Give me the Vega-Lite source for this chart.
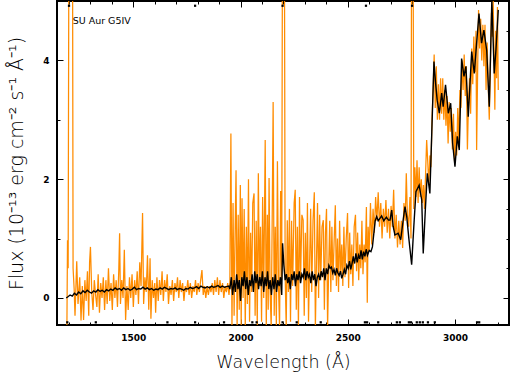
{
 "$schema": "https://vega.github.io/schema/vega-lite/v6.json",
 "width": 452, "height": 324,
 "autosize": {"type": "none"},
 "padding": {"left": 57, "top": 1, "right": 1, "bottom": 47},
 "background": "white",
 "config": {
  "font": "DejaVu Sans",
  "view": {"stroke": "black", "strokeWidth": 2},
  "axis": {"domain": false, "grid": false, "tickColor": "black", "tickWidth": 1, "labelColor": "black", "titleColor": "black", "labelFontSize": 9, "labelFontWeight": "bold", "titleFontSize": 17.5, "titleFontWeight": 200, "zindex": 1, "labelOverlap": false, "labelFlush": false}
 },
 "datasets": {
  "orange": [
   {"w":1190,"v":-0.6},{"w":1193,"v":0.97},{"w":1196,"v":0.5},{"w":1200,"v":7},{"w":1208,"v":7},{"w":1216,"v":7},{"w":1219,"v":0.5},
   {"w":1224,"v":0.15},{"w":1228,"v":-0.3},{"w":1236,"v":0.62},{"w":1242,"v":-0.1},{"w":1250,"v":0.35},{"w":1256,"v":-0.38},{"w":1262,"v":0.2},{"w":1268,"v":-0.37},{"w":1274,"v":0.3},{"w":1280,"v":-0.05},{"w":1286,"v":0.45},{"w":1292,"v":-0.3},{"w":1296,"v":0.6},{"w":1300,"v":0.86},{"w":1306,"v":0.1},{"w":1312,"v":-0.2},{"w":1318,"v":0.3},{"w":1324,"v":0.05},{"w":1330,"v":-0.15},{"w":1336,"v":0.4},{"w":1342,"v":-0.25},{"w":1348,"v":0.25},{"w":1354,"v":0.0},{"w":1360,"v":0.35},{"w":1366,"v":-0.2},{"w":1372,"v":0.3},{"w":1378,"v":-0.1},{"w":1384,"v":0.5},{"w":1390,"v":-0.05},{"w":1396,"v":0.25},{"w":1402,"v":-0.2},{"w":1408,"v":0.4},{"w":1414,"v":0.0},{"w":1420,"v":0.3},{"w":1426,"v":-0.15},{"w":1432,"v":0.45},{"w":1436,"v":1.09},{"w":1440,"v":-0.1},{"w":1446,"v":0.3},{"w":1452,"v":0.0},{"w":1458,"v":0.81},{"w":1464,"v":-0.37},{"w":1470,"v":0.2},{"w":1476,"v":-0.2},{"w":1482,"v":0.35},{"w":1488,"v":0.0},{"w":1494,"v":0.4},{"w":1500,"v":-0.15},{"w":1506,"v":0.3},{"w":1512,"v":0.05},{"w":1518,"v":0.45},{"w":1524,"v":-0.1},{"w":1530,"v":0.6},{"w":1536,"v":0.2},{"w":1543,"v":1.43},{"w":1548,"v":-0.1},{"w":1554,"v":0.35},{"w":1560,"v":0.1},{"w":1566,"v":0.72},{"w":1572,"v":-0.2},{"w":1578,"v":0.67},{"w":1582,"v":-0.35},{"w":1588,"v":0.3},{"w":1594,"v":0.0},{"w":1600,"v":0.25},{"w":1604,"v":-0.25},{"w":1610,"v":0.35},{"w":1616,"v":-0.05},{"w":1622,"v":0.3},{"w":1628,"v":0.05},{"w":1634,"v":0.45},{"w":1640,"v":-0.05},{"w":1646,"v":0.3},{"w":1652,"v":0.1},{"w":1658,"v":0.4},{"w":1664,"v":-0.1},{"w":1670,"v":0.2},{"w":1676,"v":0.05},{"w":1682,"v":0.3},{"w":1688,"v":-0.05},{"w":1694,"v":0.25},{"w":1700,"v":0.1},{"w":1706,"v":0.35},{"w":1712,"v":0.0},{"w":1718,"v":0.3},{"w":1724,"v":0.1},{"w":1730,"v":0.25},{"w":1736,"v":-0.05},{"w":1742,"v":0.2},{"w":1748,"v":0.1},{"w":1754,"v":0.3},{"w":1760,"v":0.05},{"w":1766,"v":0.25},{"w":1772,"v":0.0},{"w":1778,"v":0.2},{"w":1784,"v":0.1},{"w":1790,"v":0.3},{"w":1796,"v":0.05},{"w":1802,"v":0.25},{"w":1808,"v":0.1},{"w":1814,"v":0.3},{"w":1820,"v":0.47},{"w":1826,"v":0.05},{"w":1832,"v":0.2},{"w":1838,"v":0.0},{"w":1844,"v":0.2},{"w":1850,"v":0.05},{"w":1856,"v":0.2},{"w":1862,"v":0.1},{"w":1868,"v":0.25},{"w":1874,"v":0.05},{"w":1880,"v":0.3},{"w":1886,"v":0.1},{"w":1892,"v":0.35},{"w":1898,"v":0.05},{"w":1904,"v":0.3},{"w":1910,"v":0.1},{"w":1916,"v":0.25},{"w":1922,"v":0.0},{"w":1928,"v":0.2},{"w":1934,"v":0.1},{"w":1940,"v":0.25},{"w":1946,"v":0.05},
   {"w":1950,"v":0.2},{"w":1955,"v":2.77},{"w":1960,"v":-0.5},{"w":1965,"v":1.6},{"w":1970,"v":-0.3},{"w":1975,"v":1.2},{"w":1979,"v":2.15},{"w":1984,"v":-0.5},{"w":1989,"v":1.4},{"w":1994,"v":-0.2},{"w":1999,"v":1.9},{"w":2003,"v":-0.5},{"w":2007,"v":1.68},{"w":2012,"v":0.0},{"w":2017,"v":1.5},{"w":2022,"v":-0.5},{"w":2027,"v":1.2},{"w":2032,"v":-0.1},{"w":2037,"v":2.0},{"w":2042,"v":-0.4},{"w":2047,"v":1.1},{"w":2052,"v":0.1},{"w":2057,"v":1.6},{"w":2063,"v":1.76},{"w":2068,"v":-0.3},{"w":2073,"v":1.3},{"w":2078,"v":-0.5},{"w":2083,"v":2.1},{"w":2088,"v":0.2},{"w":2093,"v":1.2},{"w":2098,"v":-0.4},{"w":2103,"v":1.7},{"w":2108,"v":0.0},{"w":2115,"v":2.66},{"w":2120,"v":-0.5},{"w":2125,"v":1.4},{"w":2129,"v":-0.2},{"w":2133,"v":2.02},{"w":2138,"v":0.1},{"w":2143,"v":-0.5},{"w":2148,"v":1.5},{"w":2152,"v":3.3},{"w":2157,"v":-0.3},{"w":2162,"v":1.2},{"w":2167,"v":-0.5},{"w":2172,"v":2.3},{"w":2177,"v":0.2},{"w":2182,"v":-0.5},{"w":2187,"v":1.8},{"w":2192,"v":0.3},{"w":2196,"v":7},{"w":2204,"v":7},{"w":2208,"v":0.4},{"w":2213,"v":-0.5},{"w":2218,"v":1.31},{"w":2223,"v":0.1},{"w":2228,"v":1.5},{"w":2233,"v":-0.4},{"w":2238,"v":1.3},{"w":2243,"v":0.2},{"w":2250,"v":1.6},{"w":2255,"v":1.82},{"w":2260,"v":-0.2},{"w":2265,"v":1.2},{"w":2270,"v":-0.5},{"w":2275,"v":1.7},{"w":2280,"v":0.3},{"w":2286,"v":1.4},{"w":2292,"v":1.31},{"w":2297,"v":-0.3},{"w":2302,"v":1.1},{"w":2307,"v":0.0},{"w":2312,"v":1.6},{"w":2317,"v":-0.4},{"w":2322,"v":0.6},{"w":2327,"v":1.5},{"w":2332,"v":0.1},{"w":2338,"v":1.3},{"w":2344,"v":1.78},{"w":2349,"v":-0.5},{"w":2354,"v":0.6},{"w":2359,"v":1.6},{"w":2364,"v":0.0},{"w":2369,"v":1.4},{"w":2374,"v":0.3},{"w":2380,"v":1.2},{"w":2386,"v":1.31},{"w":2391,"v":-0.2},{"w":2396,"v":1.1},{"w":2401,"v":1.5},{"w":2406,"v":-0.5},{"w":2411,"v":0.5},{"w":2416,"v":1.3},{"w":2421,"v":0.1},{"w":2426,"v":1.2},{"w":2431,"v":0.3},{"w":2436,"v":0.9},{"w":2442,"v":1.56},{"w":2447,"v":0.2},{"w":2452,"v":1.0},{"w":2457,"v":0.1},{"w":2462,"v":1.3},{"w":2467,"v":0.4},{"w":2472,"v":0.9},{"w":2477,"v":0.2},{"w":2482,"v":1.2},{"w":2487,"v":0.35},{"w":2493,"v":1.0},{"w":2499,"v":1.43},{"w":2504,"v":0.17},{"w":2509,"v":1.1},{"w":2514,"v":0.4},{"w":2519,"v":0.9},{"w":2524,"v":0.2},{"w":2530,"v":1.2},{"w":2536,"v":1.4},{"w":2541,"v":0.45},{"w":2546,"v":1.1},{"w":2551,"v":0.3},{"w":2556,"v":0.9},{"w":2561,"v":0.5},{"w":2566,"v":1.3},{"w":2571,"v":0.4},{"w":2576,"v":0.9},{"w":2581,"v":0.6},{"w":2587,"v":1.53},{"w":2591,"v":-0.08},{"w":2595,"v":1.2},
   {"w":2600,"v":0.8},{"w":2606,"v":1.6},{"w":2612,"v":0.9},{"w":2618,"v":1.5},{"w":2624,"v":1.1},{"w":2630,"v":1.7},{"w":2636,"v":1.3},{"w":2642,"v":1.78},{"w":2648,"v":1.2},{"w":2654,"v":1.6},{"w":2660,"v":1.0},{"w":2666,"v":1.5},{"w":2672,"v":1.2},{"w":2678,"v":1.65},{"w":2684,"v":1.1},{"w":2690,"v":1.5},{"w":2696,"v":1.0},{"w":2702,"v":1.55},{"w":2708,"v":1.2},{"w":2714,"v":1.82},{"w":2720,"v":1.0},{"w":2726,"v":1.4},{"w":2732,"v":0.85},{"w":2738,"v":1.3},{"w":2744,"v":0.9},{"w":2750,"v":1.3},{"w":2756,"v":0.84},{"w":2762,"v":1.6},{"w":2768,"v":1.3},{"w":2773,"v":2.1},{"w":2778,"v":1.4},{"w":2784,"v":1.2},{"w":2790,"v":1.7},{"w":2795,"v":1.0},{"w":2798,"v":7},{"w":2804,"v":7},{"w":2808,"v":1.5},{"w":2813,"v":2.2},{"w":2818,"v":1.7},{"w":2823,"v":2.32},{"w":2828,"v":1.6},{"w":2833,"v":2.2},{"w":2838,"v":1.7},{"w":2843,"v":2.0},{"w":2848,"v":1.6},{"w":2853,"v":1.9},{"w":2858,"v":1.5},{"w":2863,"v":2.1},{"w":2868,"v":2.66},{"w":2873,"v":2.3},{"w":2878,"v":1.9},{"w":2883,"v":2.4},{"w":2888,"v":2.2},{"w":2893,"v":3.0},{"w":2898,"v":3.5},{"w":2903,"v":4.1},{"w":2908,"v":3.2},{"w":2913,"v":3.9},{"w":2918,"v":3.0},{"w":2923,"v":3.6},{"w":2928,"v":3.0},{"w":2933,"v":3.7},{"w":2938,"v":3.1},{"w":2943,"v":3.7},{"w":2948,"v":3.0},{"w":2953,"v":3.5},{"w":2958,"v":2.9},{"w":2963,"v":3.4},{"w":2968,"v":2.6},{"w":2973,"v":3.3},{"w":2978,"v":2.8},{"w":2983,"v":3.2},{"w":2988,"v":2.5},{"w":2993,"v":3.1},{"w":2998,"v":2.3},{"w":3003,"v":2.8},{"w":3008,"v":2.4},{"w":3013,"v":3.2},{"w":3018,"v":2.6},{"w":3023,"v":3.5},{"w":3028,"v":3.2},{"w":3033,"v":4.0},{"w":3038,"v":3.5},{"w":3043,"v":4.1},{"w":3048,"v":3.4},{"w":3053,"v":3.9},{"w":3058,"v":2.5},{"w":3063,"v":3.3},{"w":3068,"v":3.7},{"w":3073,"v":3.1},{"w":3078,"v":4.2},{"w":3083,"v":3.6},{"w":3088,"v":4.4},{"w":3093,"v":3.8},{"w":3098,"v":4.5},{"w":3101,"v":2.49},{"w":3106,"v":3.9},{"w":3110,"v":4.85},{"w":3115,"v":4.2},{"w":3120,"v":4.7},{"w":3125,"v":4.0},{"w":3130,"v":4.6},{"w":3135,"v":3.9},{"w":3140,"v":4.6},{"w":3145,"v":3.5},{"w":3150,"v":4.3},{"w":3155,"v":3.6},{"w":3160,"v":3.0},{"w":3165,"v":3.8},{"w":3170,"v":4.8},{"w":3174,"v":4.4},{"w":3178,"v":5.05},{"w":3183,"v":3.9},{"w":3186,"v":3.17},{"w":3190,"v":4.5},{"w":3194,"v":3.7},{"w":3198,"v":4.9},{"w":3202,"v":3.5}
  ],
  "smooth": [
   {"w":1187,"v":0.0},{"w":1195,"v":0.02},{"w":1205,"v":0.05},{"w":1215,"v":0.03},{"w":1225,"v":0.08},{"w":1235,"v":0.05},{"w":1245,"v":0.1},{"w":1255,"v":0.07},{"w":1265,"v":0.12},{"w":1275,"v":0.09},{"w":1285,"v":0.13},{"w":1295,"v":0.1},{"w":1305,"v":0.08},{"w":1315,"v":0.12},{"w":1325,"v":0.1},{"w":1335,"v":0.14},{"w":1345,"v":0.11},{"w":1355,"v":0.13},{"w":1365,"v":0.1},{"w":1375,"v":0.14},{"w":1385,"v":0.12},{"w":1395,"v":0.15},{"w":1405,"v":0.13},{"w":1415,"v":0.17},{"w":1425,"v":0.14},{"w":1435,"v":0.16},{"w":1445,"v":0.13},{"w":1455,"v":0.17},{"w":1465,"v":0.14},{"w":1475,"v":0.16},{"w":1485,"v":0.13},{"w":1495,"v":0.15},{"w":1505,"v":0.18},{"w":1515,"v":0.14},{"w":1525,"v":0.16},{"w":1535,"v":0.15},{"w":1545,"v":0.18},{"w":1555,"v":0.15},{"w":1565,"v":0.17},{"w":1575,"v":0.14},{"w":1585,"v":0.16},{"w":1595,"v":0.13},{"w":1605,"v":0.15},{"w":1615,"v":0.14},{"w":1625,"v":0.17},{"w":1635,"v":0.15},{"w":1645,"v":0.18},{"w":1655,"v":0.16},{"w":1665,"v":0.14},{"w":1675,"v":0.16},{"w":1685,"v":0.15},{"w":1695,"v":0.17},{"w":1705,"v":0.14},{"w":1715,"v":0.16},{"w":1725,"v":0.15},{"w":1735,"v":0.13},{"w":1745,"v":0.16},{"w":1755,"v":0.15},{"w":1765,"v":0.18},{"w":1775,"v":0.16},{"w":1785,"v":0.17},{"w":1795,"v":0.19},{"w":1805,"v":0.16},{"w":1815,"v":0.2},{"w":1825,"v":0.18},{"w":1835,"v":0.17},{"w":1845,"v":0.19},{"w":1855,"v":0.17},{"w":1865,"v":0.2},{"w":1875,"v":0.18},{"w":1885,"v":0.19},{"w":1895,"v":0.21},{"w":1905,"v":0.18},{"w":1915,"v":0.2},{"w":1925,"v":0.18},{"w":1935,"v":0.19},{"w":1945,"v":0.2},
   {"w":1950,"v":0.15},{"w":1957,"v":0.35},{"w":1963,"v":0.05},{"w":1970,"v":0.3},{"w":1976,"v":0.1},{"w":1982,"v":0.4},{"w":1988,"v":0.15},{"w":1994,"v":0.3},{"w":2000,"v":-0.05},{"w":2006,"v":0.35},{"w":2012,"v":0.2},{"w":2018,"v":0.45},{"w":2024,"v":0.15},{"w":2030,"v":0.35},{"w":2036,"v":0.05},{"w":2042,"v":0.3},{"w":2048,"v":0.2},{"w":2054,"v":0.4},{"w":2060,"v":0.1},{"w":2066,"v":0.45},{"w":2072,"v":0.25},{"w":2078,"v":0.4},{"w":2084,"v":0.15},{"w":2090,"v":0.35},{"w":2096,"v":0.2},{"w":2102,"v":0.45},{"w":2108,"v":0.1},{"w":2114,"v":0.35},{"w":2120,"v":0.2},{"w":2126,"v":0.45},{"w":2132,"v":0.15},{"w":2138,"v":0.3},{"w":2144,"v":0.05},{"w":2150,"v":0.35},{"w":2156,"v":0.15},{"w":2162,"v":0.4},{"w":2168,"v":0.1},{"w":2174,"v":0.3},{"w":2180,"v":0.2},{"w":2186,"v":0.35},{"w":2192,"v":0.05},{"w":2196,"v":0.92},{"w":2202,"v":0.55},{"w":2208,"v":0.3},{"w":2214,"v":0.4},{"w":2220,"v":0.25},{"w":2226,"v":0.35},{"w":2232,"v":0.15},{"w":2238,"v":0.4},{"w":2244,"v":0.3},{"w":2250,"v":0.45},{"w":2256,"v":0.2},{"w":2262,"v":0.4},{"w":2268,"v":0.3},{"w":2274,"v":0.45},{"w":2280,"v":0.25},{"w":2286,"v":0.4},{"w":2292,"v":0.35},{"w":2298,"v":0.5},{"w":2304,"v":0.3},{"w":2310,"v":0.45},{"w":2316,"v":0.35},{"w":2322,"v":0.4},{"w":2328,"v":0.25},{"w":2334,"v":0.45},{"w":2340,"v":0.3},{"w":2346,"v":0.4},{"w":2352,"v":0.2},{"w":2358,"v":0.35},{"w":2364,"v":0.4},{"w":2370,"v":0.3},{"w":2376,"v":0.45},{"w":2382,"v":0.35},{"w":2388,"v":0.5},{"w":2394,"v":0.3},{"w":2400,"v":0.5},{"w":2406,"v":0.4},{"w":2412,"v":0.55},{"w":2418,"v":0.5},{"w":2424,"v":0.52},{"w":2430,"v":0.42},{"w":2436,"v":0.48},{"w":2442,"v":0.38},{"w":2448,"v":0.5},{"w":2454,"v":0.42},{"w":2460,"v":0.38},{"w":2466,"v":0.45},{"w":2472,"v":0.33},{"w":2478,"v":0.4},{"w":2484,"v":0.48},{"w":2490,"v":0.4},{"w":2496,"v":0.55},{"w":2502,"v":0.5},{"w":2508,"v":0.62},{"w":2514,"v":0.48},{"w":2520,"v":0.58},{"w":2526,"v":0.7},{"w":2532,"v":0.58},{"w":2538,"v":0.75},{"w":2544,"v":0.6},{"w":2550,"v":0.72},{"w":2556,"v":0.66},{"w":2562,"v":0.8},{"w":2568,"v":0.65},{"w":2574,"v":0.78},{"w":2580,"v":0.7},{"w":2586,"v":0.82},{"w":2592,"v":0.72},{"w":2600,"v":0.8},{"w":2608,"v":0.78},{"w":2615,"v":0.86},{"w":2622,"v":1.1},{"w":2628,"v":1.3},{"w":2635,"v":1.37},{"w":2642,"v":1.3},{"w":2650,"v":1.34},
   {"w":2658,"v":1.38},{"w":2668,"v":1.3},{"w":2680,"v":1.36},{"w":2690,"v":1.31},{"w":2697,"v":1.31},{"w":2705,"v":1.48},{"w":2712,"v":1.2},{"w":2720,"v":1.06},{"w":2735,"v":1.09},{"w":2747,"v":0.98},{"w":2758,"v":1.3},{"w":2767,"v":1.54},{"w":2775,"v":1.37},{"w":2785,"v":1.0},{"w":2798,"v":0.56},{"w":2808,"v":1.2},{"w":2818,"v":1.79},{"w":2833,"v":1.9},{"w":2845,"v":1.65},{"w":2852,"v":0.75},{"w":2862,"v":1.5},{"w":2871,"v":2.1},{"w":2883,"v":1.76},{"w":2892,"v":2.8},{"w":2902,"v":3.98},{"w":2910,"v":3.6},{"w":2917,"v":3.33},{"w":2927,"v":3.11},{"w":2938,"v":3.45},{"w":2945,"v":3.22},{"w":2956,"v":3.59},{"w":2969,"v":3.11},{"w":2980,"v":3.28},{"w":2989,"v":2.61},{"w":3000,"v":2.21},{"w":3011,"v":2.72},{"w":3020,"v":2.49},{"w":3031,"v":4.03},{"w":3042,"v":3.73},{"w":3051,"v":3.9},{"w":3062,"v":3.05},{"w":3078,"v":4.15},{"w":3090,"v":3.78},{"w":3101,"v":4.29},{"w":3112,"v":4.79},{"w":3124,"v":4.29},{"w":3135,"v":4.51},{"w":3148,"v":4.17},{"w":3160,"v":3.22},{"w":3172,"v":5.02},{"w":3183,"v":3.78},{"w":3191,"v":4.17},{"w":3202,"v":4.85}
  ],
  "flags": [
   {"w":1192,"v":-0.41},{"w":1325,"v":-0.41},{"w":1659,"v":-0.41},{"w":1788,"v":-0.41},{"w":1923,"v":-0.41},{"w":2055,"v":-0.41},{"w":2075,"v":-0.41},{"w":2196,"v":-0.41},{"w":2262,"v":-0.41},{"w":2374,"v":-0.41},{"w":2580,"v":-0.41},{"w":2590,"v":-0.41},{"w":2642,"v":-0.41},{"w":2729,"v":-0.41},{"w":2743,"v":-0.41},{"w":2785,"v":-0.41},{"w":2795,"v":-0.41},{"w":2822,"v":-0.41},{"w":2836,"v":-0.41},{"w":2850,"v":-0.41},{"w":2874,"v":-0.41},{"w":2906,"v":-0.41},{"w":3103,"v":-0.41},{"w":3113,"v":-0.41},
   {"w":1200,"v":4.92},{"w":1788,"v":4.92},{"w":2196,"v":4.92},{"w":2585,"v":4.92},{"w":2800,"v":4.92}
  ],
  "label": [{"w":1217,"v":4.67,"text":"SU Aur G5IV"}]
 },
 "layer": [
  {
   "data": {"name": "orange"},
   "mark": {"type": "line", "color": "#ff8c00", "strokeWidth": 1.25, "clip": true},
   "encoding": {
    "x": {"field": "w", "type": "quantitative", "scale": {"domain": [1144, 3252], "nice": false, "zero": false},
     "axis": {"orient": "bottom", "values": [1200,1300,1400,1500,1600,1700,1800,1900,2000,2100,2200,2300,2400,2500,2600,2700,2800,2900,3000,3100,3200], "format": "d",
      "labelExpr": "datum.value % 500 === 0 ? datum.label : ''",
      "tickSize": {"condition": {"test": "datum.value % 500 === 0", "value": -6}, "value": -3},
      "labelPadding": 14, "title": "Wavelength (Å)", "titlePadding": 8}},
    "y": {"field": "v", "type": "quantitative", "scale": {"domain": [-0.455, 5.0], "nice": false, "zero": false},
     "axis": {"orient": "left", "values": [0,0.5,1,1.5,2,2.5,3,3.5,4,4.5,5], "format": "d",
      "labelExpr": "datum.value % 2 === 0 ? datum.label : ''",
      "tickSize": {"condition": {"test": "datum.value % 2 === 0", "value": -6}, "value": -3},
      "labelPadding": 14, "title": "Flux (10⁻¹³ erg cm⁻² s⁻¹ Å⁻¹)", "titleFontSize": 19, "titlePadding": 16}}
   }
  },
  {
   "data": {"name": "smooth"},
   "mark": {"type": "line", "color": "black", "strokeWidth": 1.4, "clip": true},
   "encoding": {
    "x": {"field": "w", "type": "quantitative", "scale": {"domain": [1144, 3252], "nice": false, "zero": false},
     "axis": {"orient": "top", "values": [1200,1300,1400,1500,1600,1700,1800,1900,2000,2100,2200,2300,2400,2500,2600,2700,2800,2900,3000,3100,3200], "labels": false, "title": null,
      "tickSize": {"condition": {"test": "datum.value % 500 === 0", "value": -6}, "value": -3}}},
    "y": {"field": "v", "type": "quantitative", "scale": {"domain": [-0.455, 5.0], "nice": false, "zero": false},
     "axis": {"orient": "right", "values": [0,0.5,1,1.5,2,2.5,3,3.5,4,4.5,5], "labels": false, "title": null,
      "tickSize": {"condition": {"test": "datum.value % 2 === 0", "value": -6}, "value": -3}}}
   }
  },
  {
   "data": {"name": "flags"},
   "mark": {"type": "point", "shape": "square", "filled": true, "color": "black", "size": 5, "opacity": 1},
   "encoding": {
    "x": {"field": "w", "type": "quantitative", "scale": {"domain": [1144, 3252], "nice": false, "zero": false}, "axis": null},
    "y": {"field": "v", "type": "quantitative", "scale": {"domain": [-0.455, 5.0], "nice": false, "zero": false}, "axis": null}
   }
  },
  {
   "data": {"name": "label"},
   "mark": {"type": "text", "align": "left", "baseline": "middle", "fontSize": 9.5, "color": "black"},
   "encoding": {
    "x": {"field": "w", "type": "quantitative", "scale": {"domain": [1144, 3252], "nice": false, "zero": false}, "axis": null},
    "y": {"field": "v", "type": "quantitative", "scale": {"domain": [-0.455, 5.0], "nice": false, "zero": false}, "axis": null},
    "text": {"field": "text"}
   }
  }
 ],
 "resolve": {"scale": {"x": "independent", "y": "independent"}, "axis": {"x": "independent", "y": "independent"}}
}
